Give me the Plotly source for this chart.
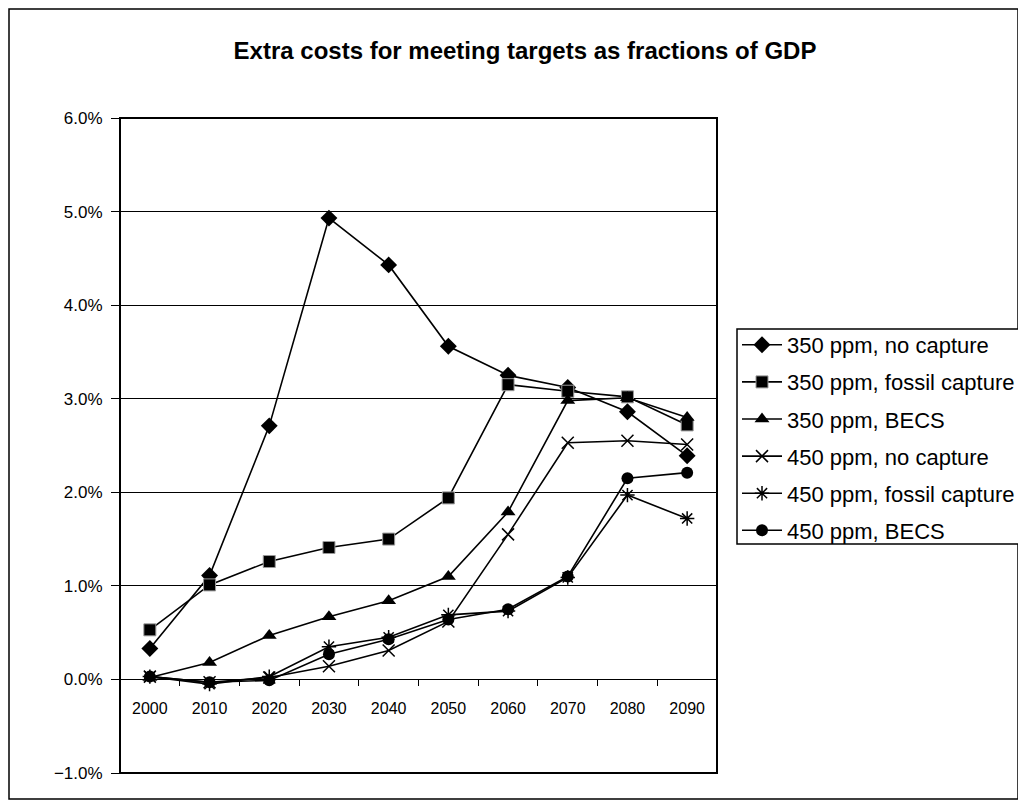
import plotly.graph_objects as go

years = ['2000', '2010', '2020', '2030', '2040', '2050', '2060', '2070', '2080', '2090']

# values in percent of GDP
ppm350_no_capture = [0.33, 1.11, 2.71, 4.93, 4.43, 3.56, 3.25, 3.12, 2.86, 2.39]
ppm350_fossil_capture = [0.53, 1.01, 1.26, 1.41, 1.50, 1.94, 3.15, 3.08, 3.02, 2.72]
ppm350_becs = [0.02, 0.18, 0.47, 0.67, 0.84, 1.10, 1.79, 2.98, 3.01, 2.80]
ppm450_no_capture = [0.03, -0.03, 0.02, 0.14, 0.31, 0.62, 1.55, 2.53, 2.55, 2.51]
ppm450_fossil_capture = [0.03, -0.05, 0.03, 0.35, 0.45, 0.69, 0.73, 1.09, 1.97, 1.72]
ppm450_becs = [0.03, -0.03, -0.01, 0.27, 0.43, 0.64, 0.75, 1.10, 2.15, 2.21]

series = [
    ("350 ppm, no capture", ppm350_no_capture, dict(symbol="diamond", size=13, color="black")),
    ("350 ppm, fossil capture", ppm350_fossil_capture,
     dict(symbol="square", size=12, color="black", line=dict(color="#9a9a9a", width=1))),
    ("350 ppm, BECS", ppm350_becs, dict(symbol="triangle-up", size=13, color="black")),
    ("450 ppm, no capture", ppm450_no_capture,
     dict(symbol="x-thin-open", size=12, color="black", line=dict(color="black", width=1.5))),
    ("450 ppm, fossil capture", ppm450_fossil_capture,
     dict(symbol="asterisk-open", size=12, color="black", line=dict(color="black", width=1.5))),
    ("450 ppm, BECS", ppm450_becs, dict(symbol="circle", size=12, color="black")),
]

FONT = "Liberation Sans, Arial, sans-serif"

fig = go.Figure()
for i, (name, vals, marker) in enumerate(series):
    fig.add_trace(go.Scatter(
        x=years, y=[v / 100 for v in vals], name=name, mode="lines+markers",
        line=dict(color="black", width=1.6), marker=marker,
        legendgroup=f"g{i}",
    ))

W, H = 1026, 807
L, R, T, B = 112, 317, 110, 42
pw, ph = W - L - R, H - T - B

def px_x(px):
    return (px - L) / pw

def px_y(py):
    return (H - B - py) / ph

fig.update_layout(
    width=W, height=H,
    margin=dict(l=L, r=R, t=T, b=B),
    paper_bgcolor="white", plot_bgcolor="white",
    font=dict(family=FONT, size=17, color="black"),
    title=dict(text="<b>Extra costs for meeting targets as fractions of GDP</b>",
               x=517 / W, xanchor="center", xref="container",
               y=1 - 43 / H, yanchor="middle", yref="container",
               font=dict(family=FONT, size=24, color="black")),
    xaxis=dict(type="category", range=[-0.5, 9.5], anchor="free", position=1 / 7,
               showline=True, linecolor="black", linewidth=1,
               ticks="outside", tickson="boundaries", ticklen=6, tickcolor="black",
               showgrid=False, zeroline=False, ticklabelstandoff=14,
               tickfont=dict(family=FONT, size=16, color="black")),
    yaxis=dict(range=[-0.01, 0.06], dtick=0.01, tickformat=".1%",
               showgrid=True, gridcolor="black", gridwidth=1,
               zeroline=False, showline=False,
               ticks="outside", ticklen=8, tickcolor="black", ticklabelstandoff=5,
               tickfont=dict(family=FONT, size=17, color="black")),
    legend=dict(x=px_x(729), y=px_y(316), xanchor="left", yanchor="top",
                borderwidth=0, bgcolor="rgba(0,0,0,0)",
                font=dict(family=FONT, size=22, color="black"),
                tracegroupgap=5.5, itemwidth=40, traceorder="grouped"),
    showlegend=True,
    shapes=[
        dict(type="rect", xref="x domain", yref="y domain", x0=0, x1=1, y0=0, y1=1,
             line=dict(color="black", width=2), fillcolor="rgba(0,0,0,0)", layer="above"),
        dict(type="rect", xref="paper", yref="paper",
             x0=px_x(1), x1=px_x(1010), y0=px_y(791), y1=px_y(1),
             line=dict(color="black", width=1.5), fillcolor="rgba(0,0,0,0)", layer="below"),
        dict(type="rect", xref="paper", yref="paper",
             x0=px_x(729), x1=px_x(1040), y0=px_y(536), y1=px_y(321),
             line=dict(color="black", width=1.5), fillcolor="white", layer="above"),
    ],
)

fig.write_html("out.html")
